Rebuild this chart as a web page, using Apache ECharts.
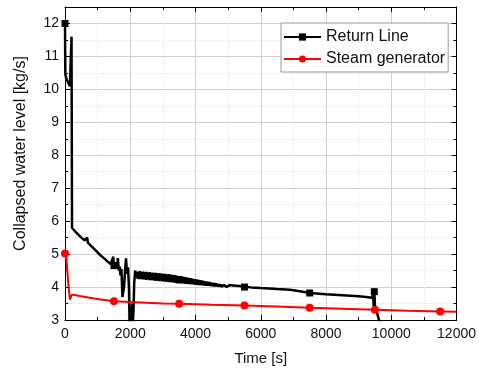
<!DOCTYPE html>
<html>
<head>
<meta charset="utf-8">
<script src="https://cdn.jsdelivr.net/npm/echarts@6/dist/echarts.min.js"></script>
<style>html,body{margin:0;padding:0;background:#fff}#c{width:479px;height:371px}</style>
</head>
<body>
<div id="c"></div>
<script>
// ---- data ----
var returnTime = [0,10,50,100,150,190,200,215,300,400,500,600,650,680,700,800,900,1000,1100,1200,1300,1400,1450,1480,1500,1530,1560,1590,1620,1650,1680,1700,1730,1760,1790,1810,1840,1870,1900,1930,1960,1980,2040,2060,2080,2100,2120,2150,
  2200,2225,2250,2275,2300,2325,2350,2375,2400,2425,2450,2475,2500,2525,2550,2575,2600,2625,2650,2675,2700,2725,2750,2775,2800,2825,2850,2875,2900,2925,2950,2975,
  3000,3025,3050,3075,3100,3125,3150,3175,3200,3225,3250,3275,3300,3325,3350,3375,3400,3425,3450,3475,3500,3525,3550,3575,3600,3625,3650,3675,3700,3725,3750,3775,3800,3825,3850,3875,3900,3925,3950,3975,
  4000,4025,4050,4075,4100,4125,4150,4175,4200,4225,4250,4275,4300,4325,4350,4375,4400,4425,4450,4475,4500,4525,4550,4575,4600,4625,4650,4675,4700,4725,4750,4775,4800,4825,4850,4875,4900,4925,4950,4975,
  5000,5050,5100,5150,5200,5250,5300,5350,5400,5450,5500,5700,6000,6500,6900,7200,7500,8000,8500,9000,9300,9430,9440,9460,9480,9500,9520,9680];
var returnLevel = [12.0,10.45,10.3,10.2,10.1,10.05,11.6,5.8,5.7,5.6,5.5,5.42,5.38,5.5,5.35,5.25,5.15,5.05,4.95,4.87,4.78,4.7,4.67,4.92,4.65,4.6,4.75,4.55,4.88,4.5,4.62,4.35,4.55,3.7,3.68,4.0,4.5,4.87,4.4,4.6,4.0,2.8,2.8,3.5,2.9,3.3,4.1,4.5,
  4.48,4.26,4.47,4.24,4.48,4.25,4.46,4.23,4.47,4.24,4.45,4.22,4.46,4.23,4.44,4.21,4.45,4.22,4.43,4.20,4.44,4.21,4.42,4.19,4.43,4.20,4.41,4.18,4.42,4.19,4.40,4.17,
  4.41,4.18,4.39,4.16,4.40,4.17,4.38,4.15,4.39,4.16,4.37,4.14,4.37,4.15,4.36,4.13,4.35,4.14,4.34,4.12,4.22,4.33,4.12,4.32,4.11,4.31,4.11,4.30,4.10,4.29,4.10,4.28,4.09,4.27,4.09,4.26,4.08,4.25,4.08,4.24,
  4.07,4.23,4.07,4.22,4.06,4.21,4.06,4.20,4.05,4.19,4.05,4.18,4.04,4.17,4.04,4.16,4.04,4.15,4.03,4.14,4.03,4.13,4.02,4.12,4.02,4.11,4.02,4.10,4.01,4.09,4.01,4.08,4.01,4.07,4.00,4.06,4.00,4.05,4.00,4.05,
  4.01,4.06,4.00,4.05,3.99,4.04,3.99,4.03,3.98,4.02,4.00,3.99,3.97,3.94,3.92,3.87,3.82,3.78,3.75,3.72,3.69,3.67,3.87,3.43,3.86,3.44,3.45,2.8];
var steamTime = [0,40,100,150,180,210,300,500,800,1100,1500,2000,2500,3000,3500,4500,5500,6500,7500,8500,9500,10500,11500,12000];
var steamLevel = [5.02,4.9,4.1,3.62,3.6,3.77,3.76,3.72,3.67,3.62,3.57,3.55,3.52,3.5,3.49,3.46,3.44,3.41,3.37,3.34,3.31,3.28,3.26,3.25];
var returnMarkerTimes = [0,1500,3500,5500,7500,9480];
var steamMarkerTimes = [0,1500,3500,5500,7500,9500,11500];
var seriesNames = ['Return Line','Steam generator'];
var xTicks = {min:0, max:12000, interval:2000};
var yTicks = {min:3, max:12.5, interval:1};

function build(ts, vs, marks){
  return ts.map(function(t,i){
    var item = {value:[t, vs[i]]};
    if (marks.indexOf(t) < 0) item.symbol = 'none';
    return item;
  });
}

var font = '"Liberation Sans", Arial, sans-serif';
function xAx(pos, show){
  return {type:'value', position:pos, min:xTicks.min, max:xTicks.max, interval:xTicks.interval,
    name: show ? 'Time [s]' : '', nameLocation:'middle', nameGap:31,
    nameTextStyle:{fontFamily:font, fontSize:15, color:'#111'},
    axisLine:{show:true, onZero:false, lineStyle:{color:'#000', width:1}},
    axisTick:{show:true, inside:true, length:5, lineStyle:{color:'#000'}},
    minorTick:{show:true, splitNumber:2, length:3, lineStyle:{color:'#000'}},
    axisLabel:{show:show, margin:7, fontFamily:font, fontSize:14, color:'#111',
      formatter:function(v){ return String(v); }},
    splitLine:{show:show, lineStyle:{color:'#cfcfcf', width:1}},
    minorSplitLine:{show:show, lineStyle:{color:'#e4e4e4', type:'dotted', width:1}}
  };
}
function yAx(pos, show){
  return {type:'value', position:pos, min:yTicks.min, max:yTicks.max, interval:yTicks.interval,
    name: show ? 'Collapsed water level [kg/s]' : '', nameLocation:'middle', nameGap:36, nameRotate:90,
    nameTextStyle:{fontFamily:font, fontSize:16, color:'#111', padding:[0,0,0,20]},
    axisLine:{show:true, onZero:false, lineStyle:{color:'#000', width:1}},
    axisTick:{show:true, inside:true, length:5, lineStyle:{color:'#000'}},
    minorTick:{show:true, splitNumber:2, length:3, lineStyle:{color:'#000'}},
    axisLabel:{show:show, margin:6, fontFamily:font, fontSize:14, color:'#111',
      formatter:function(v){ return Math.abs(v - Math.round(v)) < 1e-9 ? String(Math.round(v)) : ''; }},
    splitLine:{show:show, lineStyle:{color:'#cfcfcf', width:1}},
    minorSplitLine:{show:show, lineStyle:{color:'#e4e4e4', type:'dotted', width:1}}
  };
}

var chart = echarts.init(document.getElementById('c'), null, {renderer:'canvas'});
chart.setOption({
  backgroundColor:'#fff',
  animation:false,
  grid:{left:65, right:22, top:7, bottom:47, containLabel:false},
  legend:{
    orient:'vertical', left:281, top:23,
    backgroundColor:'#fff', borderColor:'#999', borderWidth:1,
    padding:[6,3,5,2], itemGap:6, itemWidth:37, itemHeight:9,
    textStyle:{fontFamily:font, fontSize:16, color:'#111'},
    data:seriesNames
  },
  xAxis:[xAx('bottom', true), xAx('top', false)],
  yAxis:[yAx('left', true), yAx('right', false)],
  series:[
    {name:seriesNames[0], type:'line', xAxisIndex:0, yAxisIndex:0, data:build(returnTime, returnLevel, returnMarkerTimes),
     symbol:'rect', symbolSize:7, showSymbol:true, showAllSymbol:true, clip:true,
     itemStyle:{color:'#000'}, lineStyle:{color:'#000', width:2.5}, z:3},
    {name:seriesNames[1], type:'line', xAxisIndex:0, yAxisIndex:0, data:build(steamTime, steamLevel, steamMarkerTimes),
     symbol:'circle', symbolSize:8, showSymbol:true, showAllSymbol:true, clip:true,
     itemStyle:{color:'#ff0000'}, lineStyle:{color:'#ff0000', width:2}, z:4}
  ]
});
</script>
</body>
</html>
